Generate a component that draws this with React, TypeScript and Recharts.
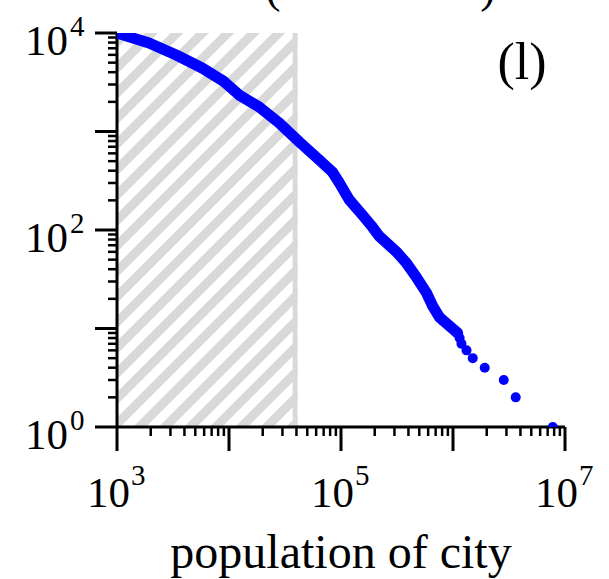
import React from "react";
import { ScatterChart, Scatter, XAxis, YAxis, ReferenceArea } from "recharts";

// rank-size data (x = city population, y = rank)
const bodyPopulation = [1000, 1930, 3380, 5750, 8870, 12300, 18600, 28100, 42500, 64100, 83800, 96800, 118800, 155300, 190800, 220400, 313000, 384800, 472400, 580000, 657000, 759000, 896000, 1100000];
const bodyRank = [10000, 7910, 5980, 4410, 3260, 2350, 1774, 1220, 782, 514, 388, 300, 202, 142, 107, 86, 60, 46, 33, 23, 17, 13, 11, 9];

const tailPopulation = [1146000, 1190000, 1320000, 1500000, 1920000, 2840000, 3630000, 7780000];
const tailRank = [8, 7, 6, 5, 4, 3, 2, 1];

const xTicks = [1e3, 2e3, 3e3, 4e3, 5e3, 6e3, 7e3, 8e3, 9e3, 1e4, 2e4, 3e4, 4e4, 5e4, 6e4, 7e4, 8e4, 9e4, 1e5, 2e5, 3e5, 4e5, 5e5, 6e5, 7e5, 8e5, 9e5, 1e6, 2e6, 3e6, 4e6, 5e6, 6e6, 7e6, 8e6, 9e6, 1e7];
const yTicks = [1, 2, 3, 4, 5, 6, 7, 8, 9, 10, 20, 30, 40, 50, 60, 70, 80, 90, 100, 200, 300, 400, 500, 600, 700, 800, 900, 1000, 2000, 3000, 4000, 5000, 6000, 7000, 8000, 9000, 10000];
// only every other decade carries a label
const xLabelled = [3, 5, 7];
const yLabelled = [0, 2, 4];

const shadeFrom = 1000;
const shadeTo = 40900;
const shadeEdge = 37000;

const bodyData = bodyPopulation.map((pop, i) => ({ pop, rank: bodyRank[i] }));
const tailData = tailPopulation.map((pop, i) => ({ pop, rank: tailRank[i] }));

const FONT = '"Liberation Serif", "Times New Roman", serif';
const BLUE = "#0000ff";

const exponent = (v: number) => {
  const e = Math.log10(v);
  return Math.abs(e - Math.round(e)) < 1e-9 ? Math.round(e) : null;
};

const XTick = (props: any) => {
  const { x, y, payload } = props;
  const e = exponent(payload.value);
  if (e === null) {
    return <line x1={x} x2={x} y1={y} y2={y + 9} stroke="#000" strokeWidth={2.5} />;
  }
  return (
    <g>
      <line x1={x} x2={x} y1={y} y2={y + 24} stroke="#000" strokeWidth={3} />
      {xLabelled.includes(e) && (
        <g>
          <text x={x + 13} y={y + 80} textAnchor="end" fontSize={43} fontFamily={FONT} fill="#000">10</text>
          <text x={x + 14} y={y + 58} textAnchor="start" fontSize={29} fontFamily={FONT} fill="#000">{e}</text>
        </g>
      )}
    </g>
  );
};

const YTick = (props: any) => {
  const { x, y, payload } = props;
  const e = exponent(payload.value);
  if (e === null) {
    return <line x1={x - 9} x2={x} y1={y} y2={y} stroke="#000" strokeWidth={2.5} />;
  }
  return (
    <g>
      <line x1={x - 22} x2={x} y1={y} y2={y} stroke="#000" strokeWidth={3} />
      {yLabelled.includes(e) && (
        <g>
          <text x={x - 49} y={y + 22} textAnchor="end" fontSize={43} fontFamily={FONT} fill="#000">10</text>
          <text x={x - 47} y={y + 3} textAnchor="start" fontSize={29} fontFamily={FONT} fill="#000">{e}</text>
        </g>
      )}
    </g>
  );
};

const Dot = (props: any) => <circle cx={props.cx} cy={props.cy} r={5} fill={BLUE} />;

export default function App() {
  return (
    <div style={{ position: "absolute", left: 0, top: 0, width: 609, height: 579, background: "#fff" }}>
      <ScatterChart width={609} height={579} margin={{ top: 33, right: 44, bottom: 0, left: 0 }}>
        <defs>
          <pattern id="hatch" patternUnits="userSpaceOnUse" width={18} height={18} patternTransform="rotate(45)">
            <rect x={0} y={0} width={18} height={18} fill="#ffffff" />
            <rect x={0} y={0} width={9} height={18} fill="#d9d9d9" />
          </pattern>
        </defs>
        <XAxis
          dataKey="pop"
          type="number"
          scale="log"
          domain={[1000, 1e7]}
          allowDataOverflow
          ticks={xTicks}
          interval={0}
          tickSize={0}
          tickMargin={0}
          tick={<XTick />}
          height={152}
          axisLine={{ stroke: "#000", strokeWidth: 3 }}
          label={{ value: "population of city", position: "insideBottom", offset: 11, fontSize: 48, fontFamily: FONT, fill: "#000" }}
        />
        <YAxis
          dataKey="rank"
          type="number"
          scale="log"
          domain={[1, 10000]}
          allowDataOverflow
          ticks={yTicks}
          interval={0}
          tickSize={0}
          tickMargin={0}
          tick={<YTick />}
          width={117}
          axisLine={{ stroke: "#000", strokeWidth: 3 }}
        />
        <ReferenceArea x1={shadeFrom} x2={shadeTo} y1={1} y2={10000} fill="url(#hatch)" fillOpacity={1} stroke="none" />
        <ReferenceArea x1={shadeEdge} x2={shadeTo} y1={1} y2={10000} fill="#d9d9d9" fillOpacity={1} stroke="none" />
        <Scatter
          data={bodyData}
          fill={BLUE}
          shape={<Dot />}
          line={{ stroke: BLUE, strokeWidth: 11, strokeLinecap: "round", strokeLinejoin: "round" }}
          isAnimationActive={false}
        />
        <Scatter data={tailData} fill={BLUE} shape={<Dot />} isAnimationActive={false} />
      </ScatterChart>
      <svg width={609} height={579} style={{ position: "absolute", left: 0, top: 0, pointerEvents: "none" }}>
        <text x={522} y={79} textAnchor="middle" fontSize={52} fontFamily={FONT} fill="#000">(l)</text>
        <text x={273} y={2} textAnchor="middle" fontSize={46} fontFamily={FONT} fill="#000">(</text>
        <text x={488} y={2} textAnchor="middle" fontSize={46} fontFamily={FONT} fill="#000">)</text>
      </svg>
    </div>
  );
}
